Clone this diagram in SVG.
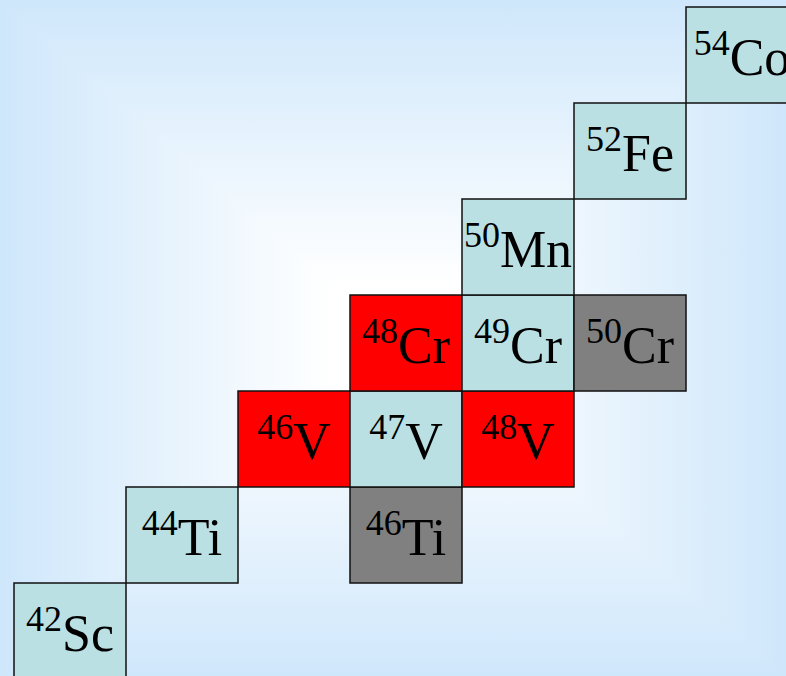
<svg xmlns="http://www.w3.org/2000/svg" width="786" height="676" viewBox="0 0 786 676">
<defs>
<linearGradient id="gT" gradientUnits="userSpaceOnUse" x1="0" y1="0" x2="0" y2="338"><stop offset="0" stop-color="#CFE7FB"/><stop offset="0.85" stop-color="#FFFFFF"/></linearGradient>
<linearGradient id="gB" gradientUnits="userSpaceOnUse" x1="0" y1="676" x2="0" y2="338"><stop offset="0" stop-color="#CFE7FB"/><stop offset="0.85" stop-color="#FFFFFF"/></linearGradient>
<linearGradient id="gL" gradientUnits="userSpaceOnUse" x1="0" y1="0" x2="393" y2="0"><stop offset="0" stop-color="#CFE7FB"/><stop offset="0.85" stop-color="#FFFFFF"/></linearGradient>
<linearGradient id="gR" gradientUnits="userSpaceOnUse" x1="786" y1="0" x2="393" y2="0"><stop offset="0" stop-color="#CFE7FB"/><stop offset="0.85" stop-color="#FFFFFF"/></linearGradient>
</defs>
<style>
.c{stroke:#111;stroke-width:1.5}
.b{fill:#BAE0E4}
.r{fill:#FF0000}
.g{fill:#808080}
.t{fill:#000;text-anchor:middle;font-family:"Times New Roman","Liberation Serif","Noto Serif","DejaVu Serif",FreeSerif,Tinos,serif;font-weight:normal}
.s{font-size:36px}
.m{font-size:52px}
</style>
<g id="background" shape-rendering="crispEdges">
<polygon points="0,0 786,0 393,338" fill="url(#gT)"/>
<polygon points="0,676 786,676 393,338" fill="url(#gB)"/>
<polygon points="0,0 0,676 393,338" fill="url(#gL)"/>
<polygon points="786,0 786,676 393,338" fill="url(#gR)"/>
</g>
<g id="connectors"></g>
<g id="n42Sc"><rect class="c b" x="14" y="583" width="112" height="96"/><text class="t" x="70" y="651"><tspan class="s" dy="-20">42</tspan><tspan class="m" dy="20">Sc</tspan></text></g>
<g id="n44Ti"><rect class="c b" x="126" y="487" width="112" height="96"/><text class="t" x="182" y="555"><tspan class="s" dy="-20">44</tspan><tspan class="m" dy="20">Ti</tspan></text></g>
<g id="n46Ti"><rect class="c g" x="350" y="487" width="112" height="96"/><text class="t" x="406" y="555"><tspan class="s" dy="-20">46</tspan><tspan class="m" dy="20">Ti</tspan></text></g>
<g id="n46V"><rect class="c r" x="238" y="391" width="112" height="96"/><text class="t" x="294" y="459"><tspan class="s" dy="-20">46</tspan><tspan class="m" dy="20">V</tspan></text></g>
<g id="n47V"><rect class="c b" x="350" y="391" width="112" height="96"/><text class="t" x="406" y="459"><tspan class="s" dy="-20">47</tspan><tspan class="m" dy="20">V</tspan></text></g>
<g id="n48V"><rect class="c r" x="462" y="391" width="112" height="96"/><text class="t" x="518" y="459"><tspan class="s" dy="-20">48</tspan><tspan class="m" dy="20">V</tspan></text></g>
<g id="n48Cr"><rect class="c r" x="350" y="295" width="112" height="96"/><text class="t" x="406" y="363"><tspan class="s" dy="-20">48</tspan><tspan class="m" dy="20">Cr</tspan></text></g>
<g id="n49Cr"><rect class="c b" x="462" y="295" width="112" height="96"/><text class="t" x="518" y="363"><tspan class="s" dy="-20">49</tspan><tspan class="m" dy="20">Cr</tspan></text></g>
<g id="n50Cr"><rect class="c g" x="574" y="295" width="112" height="96"/><text class="t" x="630" y="363"><tspan class="s" dy="-20">50</tspan><tspan class="m" dy="20">Cr</tspan></text></g>
<g id="n50Mn"><rect class="c b" x="462" y="199" width="112" height="96"/><text class="t" x="518" y="267"><tspan class="s" dy="-20">50</tspan><tspan class="m" dy="20">Mn</tspan></text></g>
<g id="n52Fe"><rect class="c b" x="574" y="103" width="112" height="96"/><text class="t" x="630" y="171"><tspan class="s" dy="-20">52</tspan><tspan class="m" dy="20">Fe</tspan></text></g>
<g id="n54Co"><rect class="c b" x="686" y="7" width="112" height="96"/><text class="t" x="742" y="75"><tspan class="s" dy="-20">54</tspan><tspan class="m" dy="20">Co</tspan></text></g>
</svg>
